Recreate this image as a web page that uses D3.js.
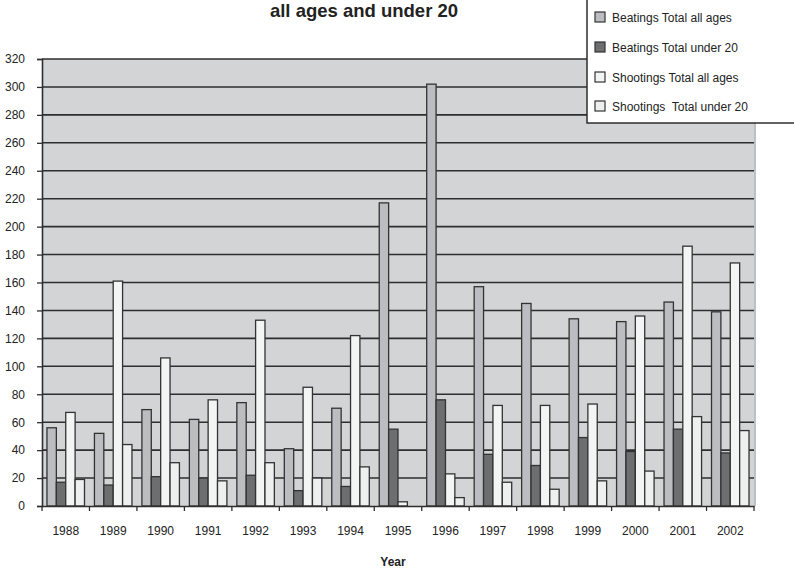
<!DOCTYPE html>
<html><head><meta charset="utf-8">
<script src="https://cdnjs.cloudflare.com/ajax/libs/d3/7.8.5/d3.min.js"></script>
<style>body{margin:0;background:#fff}svg{display:block}text{font-family:"Liberation Sans",Arial,sans-serif;white-space:pre}</style>
</head><body>
<svg id="c" width="794" height="571"></svg>
<script>
const years = ["1988","1989","1990","1991","1992","1993","1994","1995","1996","1997","1998","1999","2000","2001","2002"];
const beatingsAll = [56,52,69,62,74,41,70,217,302,157,145,134,132,146,139];
const beatingsUnder20 = [17,15,21,20,22,11,14,55,76,37,29,49,39,55,38];
const shootingsAll = [67,161,106,76,133,85,122,3,23,72,72,73,136,186,174];
const shootingsUnder20 = [19,44,31,18,31,20,28,0,6,17,12,18,25,64,54];
const seriesNames = ["Beatings Total all ages","Beatings Total under 20","Shootings Total all ages","Shootings  Total under 20"];
const seriesColors = ["#bcbdc1","#6d6e70","#f3f4f4","#eeefef"];
const yTicks = d3.range(0,321,20);

const series = [beatingsAll,beatingsUnder20,shootingsAll,shootingsUnder20];
const svg = d3.select("#c");
const L=42,R=754,T=59,B=506;
const x = d3.scaleBand().domain(years).range([L,R]).paddingInner(0).paddingOuter(0);
const xs = d3.scaleBand().domain(d3.range(4)).range([0,x.bandwidth()]).paddingInner(0).paddingOuter(0.53);
const y = d3.scaleLinear().domain([0,320]).range([B,T]);

svg.append("rect").attr("x",L).attr("y",T).attr("width",R-L).attr("height",B-T).attr("fill","#d3d4d6");
svg.append("line").attr("x1",R+1).attr("x2",R+1).attr("y1",T).attr("y2",B).attr("stroke","#a9aaac").attr("stroke-width",1.5);
svg.append("g").selectAll("line").data(yTicks.filter(d=>d>0)).join("line")
  .attr("x1",L).attr("x2",R).attr("y1",d=>y(d)).attr("y2",d=>y(d))
  .attr("stroke","#2e2e2e").attr("stroke-width",1.6);

const g = svg.append("g");
series.forEach((s,i)=>{
  g.append("g").selectAll("rect").data(s.map((v,j)=>({v,yr:years[j]}))).join("rect")
    .attr("x",d=>x(d.yr)+xs(i)).attr("width",xs.bandwidth())
    .attr("y",d=>y(d.v)).attr("height",d=>B-y(d.v))
    .attr("fill",seriesColors[i]).attr("stroke","#333").attr("stroke-width",1.3);
});

const ya = svg.append("g").attr("transform",`translate(${L},0)`)
  .call(d3.axisLeft(y).tickValues(yTicks).tickSize(5).tickPadding(12));
ya.select(".domain").attr("stroke","#2e2e2e").attr("stroke-width",1.6);
ya.selectAll(".tick line").attr("stroke","#2e2e2e").attr("stroke-width",1.3);
ya.selectAll("text").attr("font-size",12).attr("fill","#222").style("font-family","Liberation Sans, Arial");

const xa = svg.append("g").attr("transform",`translate(0,${B})`)
  .call(d3.axisBottom(x).tickSize(0).tickPadding(20));
xa.select(".domain").attr("stroke","#2e2e2e").attr("stroke-width",1.6);
xa.selectAll("text").attr("font-size",12).attr("fill","#222").style("font-family","Liberation Sans, Arial");
svg.append("g").selectAll("line").data(years.concat(["end"])).join("line")
  .attr("x1",(d,i)=>L+i*x.step()).attr("x2",(d,i)=>L+i*x.step())
  .attr("y1",B).attr("y2",B+5).attr("stroke","#2e2e2e").attr("stroke-width",1.3);

svg.append("text").attr("x",364).attr("y",17).attr("text-anchor","middle")
  .attr("font-size",18.5).attr("font-weight","bold").attr("fill","#222").text("all ages and under 20");
svg.append("text").attr("x",393).attr("y",566).attr("text-anchor","middle")
  .attr("font-size",12).attr("font-weight","bold").attr("fill","#222").text("Year");

const lg = svg.append("g");
lg.append("rect").attr("x",587).attr("y",-2).attr("width",210).attr("height",125)
  .attr("fill","#fff").attr("stroke","#2e2e2e").attr("stroke-width",1.5);
const ly = [17,47,77,106];
seriesNames.forEach((n,i)=>{
  lg.append("rect").attr("x",595).attr("y",ly[i]-5).attr("width",10).attr("height",10)
    .attr("fill",seriesColors[i]).attr("stroke","#333").attr("stroke-width",1.2);
  lg.append("text").attr("x",612).attr("y",ly[i]+4.5).attr("font-size",12).attr("fill","#222").text(n);
});
</script>
</body></html>
